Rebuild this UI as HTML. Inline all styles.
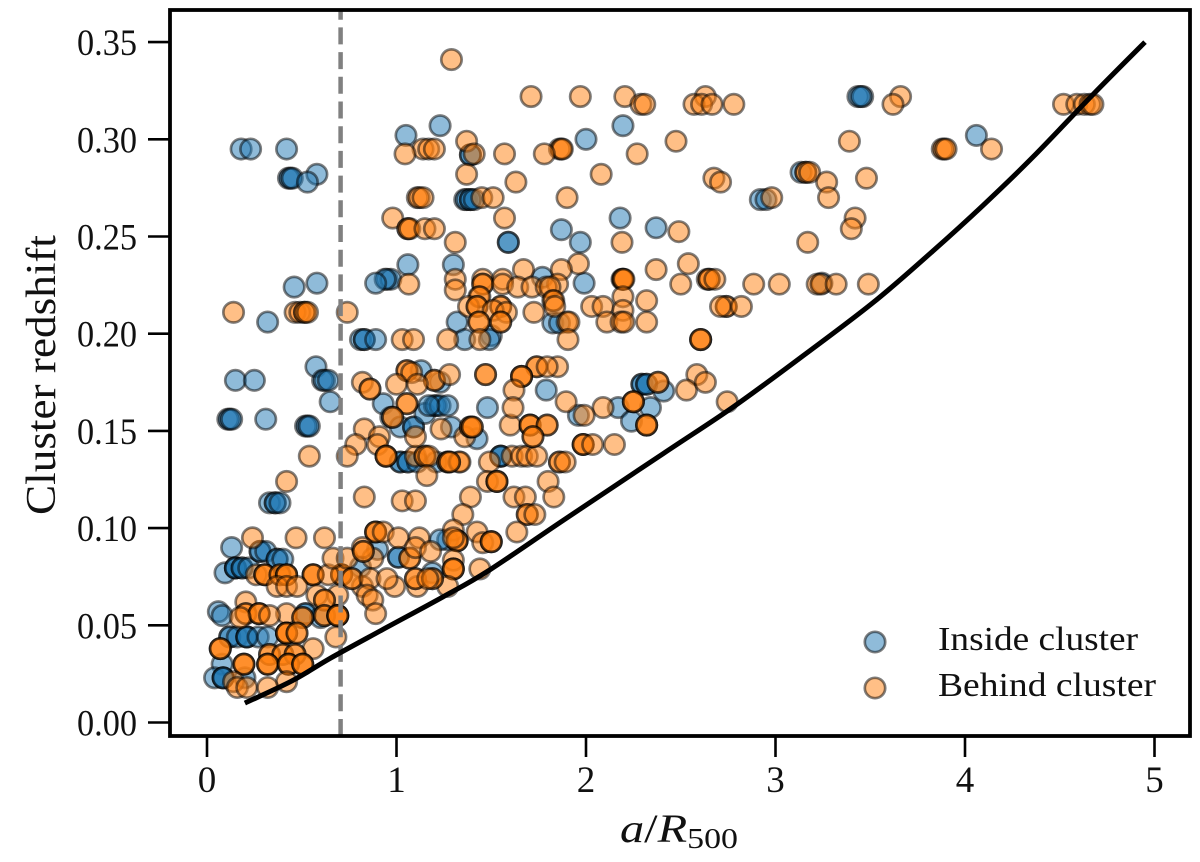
<!DOCTYPE html>
<html lang="en">
<head>
<meta charset="utf-8">
<title>Cluster redshift vs a/R500</title>
<style>
html,body{margin:0;padding:0;background:#fff;width:1200px;height:862px;overflow:hidden}
svg{display:block}
text{font-family:"Liberation Serif",serif;fill:#111}
</style>
</head>
<body>
<svg id="chart" xmlns="http://www.w3.org/2000/svg" width="1200" height="862" viewBox="0 0 1200 862">
  <defs><clipPath id="plot-clip"><rect x="170" y="10" width="1020" height="726"/></clipPath></defs>
  <rect width="1200" height="862" fill="#fff"/>
  <g id="inside-points" clip-path="url(#plot-clip)"></g>
  <g id="behind-points" clip-path="url(#plot-clip)"></g>
  <line id="threshold" stroke="#808080" stroke-width="4.5" stroke-dasharray="17 7.7"/>
  <path id="limit-curve" fill="none" stroke="#000" stroke-width="5" clip-path="url(#plot-clip)"/>
  <rect x="170" y="10" width="1020" height="726" fill="none" stroke="#000" stroke-width="3.8"/>
  <g id="x-axis"></g>
  <g id="y-axis"></g>
  <text transform="translate(55,375) rotate(-90)" text-anchor="middle" font-size="42" textLength="280" lengthAdjust="spacingAndGlyphs">Cluster redshift</text>
  <text x="620" y="842" font-size="40" textLength="118" lengthAdjust="spacingAndGlyphs"><tspan font-style="italic">a</tspan>/<tspan font-style="italic">R</tspan><tspan font-size="28" dy="6">500</tspan></text>
  <g>
    <circle cx="875" cy="642" r="10.2" fill="#1f77b4" fill-opacity="0.5" stroke="#000" stroke-opacity="0.5" stroke-width="2.7"/>
    <text x="938" y="650" font-size="34" textLength="200" lengthAdjust="spacingAndGlyphs">Inside cluster</text>
    <circle cx="875" cy="688" r="10.2" fill="#ff7f0e" fill-opacity="0.5" stroke="#000" stroke-opacity="0.5" stroke-width="2.7"/>
    <text x="938" y="696" font-size="34" textLength="218" lengthAdjust="spacingAndGlyphs">Behind cluster</text>
  </g>
</svg>
<script>
const xTicks = [0, 1, 2, 3, 4, 5];
const xTickLabels = ["0", "1", "2", "3", "4", "5"];
const yTicks = [0, 0.05, 0.10, 0.15, 0.20, 0.25, 0.30, 0.35];
const yTickLabels = ["0.00", "0.05", "0.10", "0.15", "0.20", "0.25", "0.30", "0.35"];
const thresholdA = 0.705;
const curveA = [0.2, 0.45, 0.65, 0.95, 1.245, 1.49, 1.88, 2.41, 2.775, 3.13, 3.515, 3.83, 4.095, 4.36, 4.675, 4.95];
const curveZ = [0.01, 0.0215, 0.033, 0.049, 0.0646, 0.0784, 0.104, 0.1385, 0.1622, 0.1875, 0.216, 0.2425, 0.266, 0.291, 0.323, 0.35];

const insideA = [
  0.18, 0.23, 0.42,
  0.43, 0.44, 0.45,
  0.58, 0.53,
  0.46, 0.58, 0.32,
  1.05, 1.23,
  1.36, 1.37, 1.39, 1.39, 1.41,
  1.06, 1.30, 0.95, 0.97, 0.94, 0.89,
  0.81, 0.83, 0.83, 0.89,
  0.575, 0.61, 0.62, 0.64, 0.15, 0.25,
  0.65, 0.11, 0.12, 0.13, 0.31,
  0.52, 0.53, 0.54,
  0.33, 0.36, 0.36, 0.385,
  1.32, 1.36, 0.93, 1.13, 1.23,
  0.97, 1.02, 1.09, 1.09, 1.29,
  1.15, 1.20, 1.21, 1.23, 1.27, 1.17,
  1.02, 1.02, 1.06, 1.06, 1.11, 1.21,
  0.13, 0.095, 0.15, 0.15, 0.15, 0.185, 0.185, 0.22,
  0.28, 0.28, 0.31, 0.37, 0.37, 0.40,
  0.06, 0.08, 0.12, 0.12, 0.16, 0.21, 0.21, 0.21, 0.27, 0.32,
  0.08, 0.04, 0.085, 0.085, 0.085, 0.20,
  0.52, 0.52, 0.60, 0.90, 1.01, 1.01, 0.81, 1.19, 1.27,
  1.39, 1.39, 2.0, 2.195, 1.59, 1.59, 1.97,
  1.87, 2.18, 2.37, 1.77, 1.99, 1.50, 1.825, 1.86,
  1.79, 1.48, 2.17, 2.34, 2.24, 1.96, 1.425,
  2.295, 2.295, 2.32, 2.32, 2.41, 1.55, 1.55, 1.55,
  3.435, 3.46, 3.45, 4.06, 2.92, 2.95, 3.135, 1.49, 1.23, 3.245
];
const insideZ = [
  0.295, 0.295, 0.295,
  0.28, 0.28, 0.28,
  0.282, 0.278,
  0.224, 0.226, 0.206,
  0.302, 0.307,
  0.269, 0.269, 0.269, 0.269, 0.269,
  0.2355, 0.2355, 0.228, 0.228, 0.228, 0.226,
  0.197, 0.197, 0.197, 0.197,
  0.183, 0.176, 0.176, 0.176, 0.176, 0.176,
  0.165, 0.156, 0.156, 0.156, 0.156,
  0.1525, 0.1525, 0.1525,
  0.113, 0.113, 0.113, 0.113,
  0.206, 0.197, 0.164, 0.181, 0.175,
  0.157, 0.152, 0.152, 0.152, 0.152,
  0.159, 0.163, 0.163, 0.163, 0.163, 0.163,
  0.134, 0.134, 0.134, 0.134, 0.134, 0.134,
  0.09, 0.077, 0.0795, 0.0795, 0.0795, 0.0795, 0.0795, 0.0795,
  0.088, 0.088, 0.088, 0.084, 0.084, 0.084,
  0.057, 0.055, 0.044, 0.044, 0.044, 0.044, 0.044, 0.044, 0.044, 0.044,
  0.03, 0.023, 0.023, 0.023, 0.023, 0.023,
  0.056, 0.056, 0.054, 0.089, 0.085, 0.085, 0.08, 0.077, 0.094,
  0.292, 0.292, 0.30, 0.307, 0.247, 0.247, 0.247,
  0.2535, 0.2595, 0.2545, 0.229, 0.226, 0.199, 0.2055, 0.2055,
  0.171, 0.162, 0.162, 0.162, 0.155, 0.158, 0.146,
  0.174, 0.174, 0.174, 0.174, 0.1705, 0.137, 0.137, 0.137,
  0.322, 0.322, 0.322, 0.302, 0.269, 0.269, 0.283, 0.197, 0.094, 0.226
];

const behindA = [
  1.29,
  1.71, 1.97, 2.205, 2.63, 3.66,
  2.29, 2.31, 2.57, 2.61, 2.665, 2.78, 3.62, 4.52, 4.59, 4.63, 4.66, 4.675,
  1.37, 2.475, 3.39,
  1.14, 1.17, 1.20, 1.86, 1.87, 1.875, 3.88, 3.89, 3.90, 4.14,
  1.045, 1.41, 1.57, 1.78, 2.27,
  1.37, 2.08, 3.16, 3.16, 3.18,
  2.675, 3.48, 1.63, 2.71, 3.27,
  1.11, 1.12, 1.14, 1.45, 1.51, 1.90, 2.98, 3.28,
  1.57, 0.98, 3.42, 1.06, 1.06, 1.07, 1.15, 1.20, 3.40,
  1.31, 2.19, 3.17, 2.49, 2.54, 1.96,
  1.67, 1.87, 2.37, 2.64, 2.65, 2.65, 2.68, 2.19, 2.195, 2.195, 2.20, 1.455, 1.56, 1.31,
  1.065, 1.455, 1.455, 1.85, 1.56, 2.50, 2.885, 3.02, 3.22, 3.24, 3.32, 3.49,
  1.64, 1.715, 1.79, 1.81, 1.31,
  1.435, 1.44, 2.195, 1.825, 1.83, 2.32,
  1.38, 1.425, 1.425, 1.55, 1.55, 1.835, 2.03, 2.09, 2.74, 2.74, 2.71, 2.82,
  1.51, 2.195, 1.58, 1.725, 0.14, 0.465, 0.49, 0.515, 0.515, 0.53, 0.74,
  1.435, 1.435, 1.55, 1.55, 1.90, 1.91, 2.11, 2.185, 2.20, 2.32,
  1.03, 1.09, 1.27, 1.44, 1.905, 2.605, 2.605, 2.605,
  1.85, 1.74, 1.74, 1.795, 1.055, 1.055, 1.08,
  1.20, 1.20, 1.28, 2.585, 1.00, 1.11, 0.82, 0.86, 0.86,
  1.055, 1.055, 0.98, 0.98, 0.83, 1.235, 0.91, 0.785, 0.90,
  0.945, 0.945, 0.945, 1.10, 0.74, 0.54, 1.15, 1.15, 1.17, 1.61, 1.66, 1.69, 1.74,
  1.27, 1.27, 1.33, 1.49, 1.335, 1.28, 1.28, 1.86, 1.86, 1.89,
  1.10, 1.36, 1.39, 1.39, 1.40, 1.40, 1.60, 1.705, 1.705, 1.705,
  1.795, 1.795, 2.32, 2.32, 2.32, 1.72, 1.72, 1.47, 1.47,
  1.66, 1.66, 1.66, 1.62, 2.53, 1.615, 2.09,
  1.895, 2.25, 2.25, 2.25, 2.745, 1.99, 1.985, 1.985, 1.985, 2.035, 2.15,
  2.38, 2.38, 2.63, 1.48, 1.53, 1.53, 1.53, 1.80, 0.42, 1.16,
  1.39, 1.62, 1.68, 1.83, 0.83, 1.03, 1.10,
  1.35, 1.69, 1.69, 1.73, 1.635, 1.425, 0.89, 0.89, 0.89, 0.93,
  1.455, 1.50, 1.50, 1.50, 1.30, 1.32, 1.32, 1.32, 1.30, 1.30, 1.30, 1.30, 1.44, 1.27,
  0.24, 0.47, 0.62, 1.01, 1.12, 1.30,
  0.26, 0.305, 0.305, 0.305, 0.385, 0.385, 0.42, 0.42, 0.42, 0.56, 0.56, 0.56, 0.71, 0.71, 0.71, 0.64,
  0.37, 0.42, 0.475, 0.82, 0.99, 1.11,
  0.665, 0.74, 0.875, 1.07, 1.07, 0.765, 0.765, 0.86, 0.95, 1.10, 1.10, 1.19, 1.19, 1.165,
  0.845, 0.58, 0.69, 0.62, 0.62, 0.875, 0.205,
  0.89, 0.205, 0.205, 0.275, 0.275, 0.275, 0.42, 0.62, 0.62, 0.69, 0.69, 0.69, 0.69, 0.33, 0.175, 0.505, 0.505,
  0.42, 0.42, 0.42, 0.42, 0.475, 0.475, 0.68,
  0.56, 0.07, 0.07, 0.07, 0.33, 0.33, 0.40, 0.40, 0.465, 0.465,
  0.195, 0.195, 0.195, 0.32, 0.32, 0.32, 0.43, 0.43, 0.43, 0.505, 0.505, 0.505,
  0.14, 0.42, 0.16, 0.21, 0.32,
  0.82, 1.10, 0.825, 0.825, 1.18
];
const behindZ = [
  0.341,
  0.322, 0.322, 0.322, 0.322, 0.322,
  0.318, 0.318, 0.318, 0.318, 0.318, 0.318, 0.318, 0.318, 0.318, 0.318, 0.318, 0.318,
  0.299, 0.299, 0.299,
  0.295, 0.295, 0.295, 0.295, 0.295, 0.295, 0.295, 0.295, 0.295, 0.295,
  0.2925, 0.2925, 0.2925, 0.2925, 0.2925,
  0.282, 0.282, 0.283, 0.283, 0.283,
  0.28, 0.28, 0.278, 0.278, 0.278,
  0.27, 0.27, 0.27, 0.27, 0.27, 0.27, 0.27, 0.27,
  0.2595, 0.2595, 0.2595, 0.254, 0.254, 0.254, 0.254, 0.254, 0.254,
  0.247, 0.247, 0.247, 0.2525, 0.236, 0.236,
  0.233, 0.233, 0.233, 0.228, 0.228, 0.228, 0.228, 0.228, 0.228, 0.228, 0.228, 0.228, 0.228, 0.228,
  0.2255, 0.2255, 0.2255, 0.2255, 0.2255, 0.2255, 0.2255, 0.2255, 0.2255, 0.2255, 0.2255, 0.2255,
  0.224, 0.224, 0.224, 0.224, 0.2225,
  0.219, 0.219, 0.219, 0.217, 0.217, 0.217,
  0.214, 0.214, 0.214, 0.214, 0.214, 0.214, 0.214, 0.214, 0.214, 0.214, 0.214, 0.214,
  0.212, 0.212, 0.211, 0.211, 0.211, 0.211, 0.211, 0.211, 0.211, 0.211, 0.211,
  0.206, 0.206, 0.206, 0.206, 0.206, 0.206, 0.206, 0.206, 0.206, 0.206,
  0.197, 0.197, 0.197, 0.197, 0.197, 0.197, 0.197, 0.197,
  0.183, 0.183, 0.183, 0.183, 0.181, 0.181, 0.18,
  0.176, 0.176, 0.179, 0.179, 0.174, 0.174, 0.175, 0.1715, 0.1715,
  0.164, 0.164, 0.157, 0.157, 0.151, 0.151, 0.147, 0.143, 0.143,
  0.137, 0.137, 0.137, 0.137, 0.137, 0.137, 0.137, 0.137, 0.137, 0.137, 0.137, 0.137, 0.137,
  0.134, 0.134, 0.134, 0.134, 0.134, 0.134, 0.134, 0.134, 0.134, 0.134,
  0.147, 0.147, 0.152, 0.152, 0.152, 0.152, 0.153, 0.153, 0.153, 0.153,
  0.153, 0.153, 0.153, 0.153, 0.153, 0.147, 0.147, 0.179, 0.179,
  0.178, 0.178, 0.178, 0.171, 0.171, 0.162, 0.162,
  0.165, 0.165, 0.165, 0.165, 0.165, 0.158, 0.143, 0.143, 0.143, 0.143, 0.143,
  0.175, 0.175, 0.175, 0.124, 0.124, 0.124, 0.124, 0.124, 0.124, 0.127,
  0.116, 0.116, 0.116, 0.116, 0.116, 0.114, 0.114,
  0.107, 0.107, 0.107, 0.107, 0.098, 0.098, 0.098, 0.098, 0.098, 0.098,
  0.0925, 0.093, 0.093, 0.093, 0.099, 0.0935, 0.0935, 0.0935, 0.0835, 0.079, 0.079, 0.079, 0.079, 0.07,
  0.095, 0.095, 0.095, 0.095, 0.095, 0.095,
  0.076, 0.076, 0.076, 0.076, 0.076, 0.076, 0.076, 0.076, 0.076, 0.076, 0.076, 0.076, 0.076, 0.076, 0.076, 0.076,
  0.07, 0.07, 0.07, 0.07, 0.07, 0.07,
  0.0845, 0.0845, 0.0845, 0.0845, 0.0845, 0.074, 0.074, 0.074, 0.074, 0.074, 0.074, 0.074, 0.074, 0.074,
  0.0655, 0.0655, 0.0655, 0.063, 0.063, 0.063, 0.062,
  0.056, 0.056, 0.056, 0.056, 0.056, 0.056, 0.056, 0.055, 0.055, 0.055, 0.055, 0.055, 0.055, 0.055, 0.054, 0.054, 0.054,
  0.046, 0.046, 0.046, 0.046, 0.046, 0.046, 0.044,
  0.038, 0.038, 0.038, 0.038, 0.035, 0.035, 0.035, 0.035, 0.035, 0.035,
  0.03, 0.03, 0.03, 0.03, 0.03, 0.03, 0.03, 0.03, 0.03, 0.03, 0.03, 0.03,
  0.021, 0.021, 0.018, 0.018, 0.018,
  0.09, 0.09, 0.088, 0.088, 0.088
];

const NS = "http://www.w3.org/2000/svg";
function xScale(a) { return 207 + a * 189.5; }
function yScale(z) { return 722.5 - z * 1944; }

function drawPoints(groupId, as, zs, color, name) {
  const g = document.getElementById(groupId);
  for (let i = 0; i < as.length; i++) {
    const c = document.createElementNS(NS, "circle");
    c.setAttribute("cx", xScale(as[i]));
    c.setAttribute("cy", yScale(zs[i]));
    c.setAttribute("r", 10.2);
    c.setAttribute("fill", color);
    c.setAttribute("fill-opacity", 0.5);
    c.setAttribute("stroke", "#000");
    c.setAttribute("stroke-opacity", 0.5);
    c.setAttribute("stroke-width", 2.7);
    
    
    g.appendChild(c);
  }
}
drawPoints("inside-points", insideA, insideZ, "#1f77b4", "inside-cluster-point");
drawPoints("behind-points", behindA, behindZ, "#ff7f0e", "behind-cluster-point");

const thr = document.getElementById("threshold");
thr.setAttribute("x1", xScale(thresholdA));
thr.setAttribute("x2", xScale(thresholdA));
thr.setAttribute("y1", 736);
thr.setAttribute("y2", 10);

// Smooth path through the read curve points (Catmull-Rom to Bezier)
const curvePts = curveA.map(function (a, i) { return [xScale(a), yScale(curveZ[i])]; });
let d = "M" + curvePts[0][0].toFixed(1) + " " + curvePts[0][1].toFixed(1);
for (let i = 0; i < curvePts.length - 1; i++) {
  const p0 = curvePts[Math.max(0, i - 1)];
  const p1 = curvePts[i];
  const p2 = curvePts[i + 1];
  const p3 = curvePts[Math.min(curvePts.length - 1, i + 2)];
  d += "C" + (p1[0] + (p2[0] - p0[0]) / 6).toFixed(1) + " " + (p1[1] + (p2[1] - p0[1]) / 6).toFixed(1) +
       " " + (p2[0] - (p3[0] - p1[0]) / 6).toFixed(1) + " " + (p2[1] - (p3[1] - p1[1]) / 6).toFixed(1) +
       " " + p2[0].toFixed(1) + " " + p2[1].toFixed(1);
}
document.getElementById("limit-curve").setAttribute("d", d);

const xg = document.getElementById("x-axis");
xTicks.forEach(function (v, i) {
  const t = document.createElementNS(NS, "line");
  t.setAttribute("x1", xScale(v));
  t.setAttribute("x2", xScale(v));
  t.setAttribute("y1", 736);
  t.setAttribute("y2", 757);
  t.setAttribute("stroke", "#000");
  t.setAttribute("stroke-width", 2.6);
  
  
  xg.appendChild(t);
  const l = document.createElementNS(NS, "text");
  l.setAttribute("x", xScale(v));
  l.setAttribute("y", 792);
  l.setAttribute("text-anchor", "middle");
  l.setAttribute("font-size", 37);
  l.textContent = xTickLabels[i];
  
  
  xg.appendChild(l);
});

const yg = document.getElementById("y-axis");
yTicks.forEach(function (v, i) {
  const t = document.createElementNS(NS, "line");
  t.setAttribute("x1", 148);
  t.setAttribute("x2", 170);
  t.setAttribute("y1", yScale(v));
  t.setAttribute("y2", yScale(v));
  t.setAttribute("stroke", "#000");
  t.setAttribute("stroke-width", 2.6);
  
  
  yg.appendChild(t);
  const l = document.createElementNS(NS, "text");
  l.setAttribute("x", 77);
  l.setAttribute("y", yScale(v) + 13);
  l.setAttribute("font-size", 37);
  l.setAttribute("textLength", 60);
  l.setAttribute("lengthAdjust", "spacingAndGlyphs");
  l.textContent = yTickLabels[i];
  
  
  yg.appendChild(l);
});
</script>
</body>
</html>
